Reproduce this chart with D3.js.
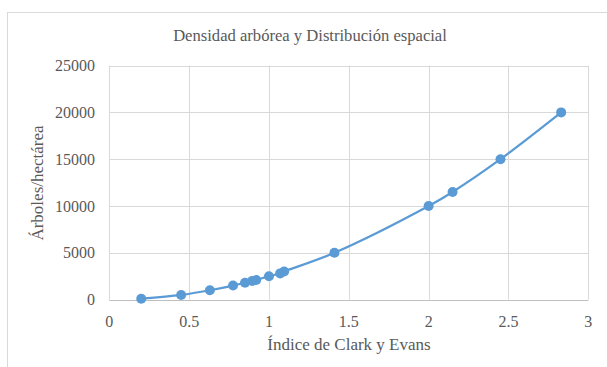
<!DOCTYPE html>
<html><head><meta charset="utf-8">
<script src="https://cdn.jsdelivr.net/npm/d3@7"></script>
<style>body{margin:0;background:#fff}svg{display:block}</style>
</head><body>
<script>
const title = "Densidad arbórea y Distribución espacial";
const xLabel = "Índice de Clark y Evans";
const yLabel = "Árboles/hectárea";
const clarkEvans = [0.2, 0.45, 0.63, 0.775, 0.85, 0.895, 0.92, 1.0, 1.07, 1.095, 1.41, 2.0, 2.15, 2.45, 2.83];
const arboles = [100, 500, 1000, 1500, 1800, 2000, 2100, 2500, 2800, 3000, 5000, 10000, 11500, 15000, 20000];
const xTicks = [0, 0.5, 1, 1.5, 2, 2.5, 3];
const yTicks = [0, 5000, 10000, 15000, 20000, 25000];

const W = 607, H = 367;
const svg = d3.select("body").append("svg").attr("width", W).attr("height", H);
svg.append("rect").attr("x", 7.5).attr("y", 12.5).attr("width", 620).attr("height", 370)
  .attr("fill", "#fff").attr("stroke", "#d9d9d9");

const x = d3.scaleLinear().domain([0, 3]).range([109.3, 588.3]);
const y = d3.scaleLinear().domain([0, 25000]).range([299.6, 65.6]);
const font = "'Liberation Serif', 'Times New Roman', serif";
const txt = "#595959";

// gridlines
svg.append("g").selectAll("line").data(yTicks.slice(1)).join("line")
  .attr("x1", x(0)).attr("x2", x(3)).attr("y1", d => Math.round(y(d)) + 0.5).attr("y2", d => Math.round(y(d)) + 0.5)
  .attr("stroke", "#d9d9d9").attr("stroke-width", 1);
svg.append("g").selectAll("line").data(xTicks).join("line")
  .attr("x1", d => Math.round(x(d)) + 0.5).attr("x2", d => Math.round(x(d)) + 0.5).attr("y1", y(25000)).attr("y2", y(0))
  .attr("stroke", "#d9d9d9").attr("stroke-width", 1);
// x axis line
svg.append("line").attr("x1", x(0)).attr("x2", x(3)).attr("y1", Math.round(y(0)) + 0.5).attr("y2", Math.round(y(0)) + 0.5)
  .attr("stroke", "#bfbfbf");

// tick labels
svg.append("g").selectAll("text").data(yTicks).join("text")
  .attr("x", 95).attr("y", d => y(d)).attr("dy", "0.35em").attr("text-anchor", "end")
  .attr("font-family", font).attr("font-size", 16).attr("fill", txt).text(d => d);
svg.append("g").selectAll("text").data(xTicks).join("text")
  .attr("x", d => x(d)).attr("y", 321).attr("dy", "0.35em").attr("text-anchor", "middle")
  .attr("font-family", font).attr("font-size", 16).attr("fill", txt).text(d => d);

// titles
svg.append("text").attr("x", 310).attr("y", 35).attr("dy", "0.35em").attr("text-anchor", "middle")
  .attr("font-family", font).attr("font-size", 16.6).attr("fill", txt).text(title);
svg.append("text").attr("x", 349).attr("y", 344).attr("dy", "0.35em").attr("text-anchor", "middle")
  .attr("font-family", font).attr("font-size", 17).attr("fill", txt).text(xLabel);
svg.append("text").attr("transform", "translate(37,183) rotate(-90)").attr("dy", "0.35em").attr("text-anchor", "middle")
  .attr("font-family", font).attr("font-size", 17).attr("fill", txt).text(yLabel);

// series
const pts = clarkEvans.map((v, i) => [v, arboles[i]]);
const line = d3.line().x(d => x(d[0])).y(d => y(d[1])).curve(d3.curveCatmullRom.alpha(0.5));
svg.append("path").attr("d", line(pts)).attr("fill", "none").attr("stroke", "#5b9bd5").attr("stroke-width", 2.25);
svg.append("g").selectAll("circle").data(pts).join("circle")
  .attr("cx", d => x(d[0])).attr("cy", d => y(d[1])).attr("r", 5).attr("fill", "#5b9bd5");
</script>
</body></html>
